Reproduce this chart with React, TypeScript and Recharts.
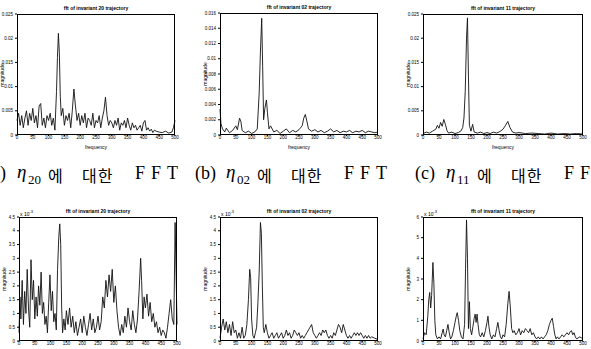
import React from 'react';
import { LineChart, Line, XAxis, YAxis } from 'recharts';

// frequency ticks shared by all six panels
const freqTicks = [0, 50, 100, 150, 200, 250, 300, 350, 400, 450, 500];

// (a) eta20, first run
const aFreq = [0, 5, 10, 15, 20, 25, 30, 35, 40, 45, 50, 55, 60, 65, 70, 75, 80, 85, 90, 95, 100, 105, 110, 115, 120, 125, 128, 131, 134, 137, 140, 145, 150, 155, 160, 165, 170, 175, 180, 185, 190, 195, 200, 205, 210, 215, 220, 225, 230, 235, 240, 245, 250, 255, 260, 265, 270, 275, 280, 285, 290, 295, 300, 305, 310, 315, 320, 325, 330, 335, 340, 345, 350, 355, 360, 365, 370, 375, 380, 385, 390, 395, 400, 405, 410, 415, 420, 425, 430, 435, 440, 450, 460, 470, 480, 490, 495, 500];
const aMag = [0.003, 0.0045, 0.002, 0.004, 0.0015, 0.0035, 0.005, 0.002, 0.0045, 0.003, 0.0055, 0.0025, 0.004, 0.0015, 0.006, 0.0065, 0.002, 0.0035, 0.0015, 0.004, 0.003, 0.0045, 0.002, 0.0035, 0.001, 0.009, 0.016, 0.021, 0.017, 0.008, 0.004, 0.0055, 0.002, 0.004, 0.003, 0.0045, 0.0015, 0.005, 0.0095, 0.006, 0.003, 0.0045, 0.002, 0.004, 0.0025, 0.0045, 0.0015, 0.0035, 0.003, 0.002, 0.0045, 0.0015, 0.003, 0.0025, 0.004, 0.0015, 0.0035, 0.005, 0.0078, 0.004, 0.002, 0.003, 0.0025, 0.0015, 0.003, 0.002, 0.0035, 0.001, 0.0025, 0.002, 0.003, 0.0015, 0.0035, 0.002, 0.001, 0.0025, 0.0015, 0.002, 0.001, 0.0015, 0.002, 0.0008, 0.0025, 0.003, 0.001, 0.0015, 0.0008, 0.0012, 0.0005, 0.001, 0.0008, 0.0006, 0.0005, 0.0008, 0.0004, 0.0006, 0.0015, 0.003];

// (b) eta02, first run
const bFreq = [0, 3, 8, 15, 20, 30, 40, 50, 55, 62, 66, 70, 80, 90, 100, 110, 118, 124, 128, 132, 135, 138, 142, 147, 150, 155, 160, 170, 180, 190, 200, 210, 220, 230, 240, 250, 260, 265, 270, 275, 280, 290, 300, 310, 320, 330, 340, 350, 360, 370, 380, 390, 400, 410, 420, 430, 440, 450, 460, 470, 480, 490, 500];
const bMag = [0.0034, 0.0015, 0.0008, 0.0004, 0.0009, 0.0003, 0.0006, 0.0012, 0.0007, 0.0022, 0.0018, 0.0006, 0.0003, 0.0005, 0.0002, 0.0004, 0.0008, 0.0055, 0.011, 0.0153, 0.009, 0.002, 0.0035, 0.0046, 0.003, 0.0008, 0.0012, 0.0004, 0.0006, 0.0002, 0.0005, 0.0008, 0.0003, 0.0006, 0.0004, 0.0007, 0.0012, 0.0022, 0.0027, 0.0018, 0.0008, 0.0005, 0.0007, 0.0004, 0.0006, 0.0003, 0.0005, 0.0008, 0.0004, 0.0006, 0.0003, 0.0005, 0.0004, 0.0006, 0.0003, 0.0005, 0.0004, 0.0006, 0.0003, 0.0005, 0.0004, 0.0003, 0.0004];

// (c) eta11, first run
const cFreq = [0, 10, 20, 30, 40, 45, 50, 55, 60, 65, 70, 75, 80, 90, 100, 110, 118, 124, 128, 132, 136, 139, 142, 145, 150, 155, 160, 170, 180, 190, 200, 210, 220, 230, 240, 250, 258, 265, 272, 280, 290, 300, 320, 340, 360, 380, 400, 420, 440, 460, 480, 500];
const cMag = [0.0003, 0.0006, 0.0004, 0.0008, 0.0012, 0.002, 0.0014, 0.0026, 0.0018, 0.0032, 0.0022, 0.0009, 0.0004, 0.0006, 0.0003, 0.0005, 0.0008, 0.0015, 0.0035, 0.009, 0.02, 0.0242, 0.012, 0.002, 0.0008, 0.0022, 0.0006, 0.0004, 0.0006, 0.0003, 0.0005, 0.0003, 0.0006, 0.0004, 0.0007, 0.0012, 0.002, 0.0028, 0.0015, 0.0006, 0.0004, 0.0005, 0.0003, 0.0004, 0.0003, 0.0002, 0.0004, 0.0002, 0.0003, 0.0002, 0.0003, 0.0002];

// (d) eta20, second run (x 10^-3)
const dFreq = [0, 3, 6, 10, 14, 18, 22, 26, 30, 34, 38, 42, 46, 50, 54, 58, 62, 66, 70, 74, 78, 82, 86, 90, 94, 98, 102, 106, 110, 114, 118, 122, 126, 129, 132, 135, 138, 142, 146, 150, 155, 160, 165, 170, 175, 180, 185, 190, 195, 200, 205, 210, 215, 220, 225, 230, 235, 240, 245, 250, 255, 260, 265, 270, 275, 280, 285, 290, 295, 300, 305, 310, 315, 320, 325, 330, 335, 340, 345, 350, 355, 360, 365, 370, 375, 380, 385, 388, 392, 396, 400, 405, 410, 415, 420, 425, 430, 435, 440, 445, 450, 455, 460, 465, 470, 475, 480, 485, 490, 494, 497, 500];
const dMag = [0.3, 1.6, 0.8, 2.2, 0.6, 1.8, 1.0, 2.6, 1.2, 0.5, 2.95, 1.5, 2.2, 0.8, 1.6, 0.9, 2.0, 1.3, 2.5, 1.0, 1.4, 0.6, 0.9, 0.3, 1.4, 2.4, 1.1, 1.8, 0.7, 1.0, 0.4, 2.6, 3.8, 4.25, 3.5, 1.2, 0.3, 0.8, 0.4, 1.1, 0.6, 1.2, 0.5, 0.9, 0.3, 0.7, 0.2, 0.5, 0.8, 0.3, 0.9, 0.5, 0.2, 0.6, 1.0, 0.4, 0.8, 0.3, 0.5, 0.9, 0.4, 0.7, 1.6, 1.2, 2.2, 1.6, 2.4, 1.8, 2.6, 1.4, 2.0, 1.1, 0.5, 0.2, 0.6, 0.3, 0.9, 0.5, 1.2, 0.7, 0.4, 1.1, 0.6, 0.3, 0.8, 1.8, 3.0, 2.2, 0.8, 1.6, 1.2, 1.7, 0.9, 1.4, 0.7, 1.0, 0.5, 0.7, 0.3, 0.5, 0.2, 0.4, 0.3, 0.1, 0.5, 1.0, 1.5, 0.8, 0.6, 4.3, 2.5, 0.6];

// (e) eta02, second run (x 10^-3)
const eFreq = [0, 5, 10, 15, 20, 25, 30, 35, 40, 45, 50, 55, 60, 65, 70, 75, 80, 85, 90, 94, 97, 100, 104, 108, 112, 116, 120, 124, 128, 131, 134, 137, 140, 145, 150, 155, 160, 165, 170, 175, 180, 185, 190, 195, 200, 205, 210, 215, 220, 225, 230, 235, 240, 245, 250, 255, 260, 265, 270, 275, 280, 285, 290, 295, 300, 305, 310, 315, 320, 325, 330, 335, 340, 345, 350, 355, 360, 365, 370, 375, 380, 385, 390, 395, 400, 405, 410, 415, 420, 425, 430, 435, 440, 445, 450, 455, 460, 465, 470, 475, 480, 490, 500];
const eMag = [0.1, 0.5, 0.8, 0.4, 0.7, 0.3, 0.6, 0.2, 0.7, 0.3, 0.4, 0.1, 0.3, 0.1, 0.5, 0.1, 0.2, 0.6, 1.5, 2.6, 2.3, 0.8, 0.2, 0.1, 0.3, 0.5, 1.4, 2.5, 4.3, 3.9, 2.0, 0.5, 0.3, 0.6, 0.3, 0.1, 0.2, 0.3, 0.1, 0.2, 0.3, 0.1, 0.2, 0.3, 0.1, 0.2, 0.4, 0.2, 0.3, 0.1, 0.2, 0.4, 0.3, 0.2, 0.3, 0.1, 0.2, 0.1, 0.2, 0.3, 0.4, 0.5, 0.6, 0.3, 0.2, 0.1, 0.2, 0.3, 0.2, 0.4, 0.3, 0.4, 0.2, 0.1, 0.2, 0.1, 0.3, 0.2, 0.4, 0.6, 0.5, 0.3, 0.6, 0.4, 0.2, 0.1, 0.2, 0.1, 0.2, 0.3, 0.2, 0.3, 0.2, 0.3, 0.2, 0.1, 0.2, 0.1, 0.2, 0.1, 0.15, 0.1, 0.05];

// (f) eta11, second run (x 10^-3)
const fFreq = [0, 5, 10, 15, 18, 21, 24, 27, 31, 34, 37, 40, 45, 50, 55, 60, 63, 66, 70, 74, 78, 82, 86, 90, 95, 100, 104, 107, 111, 115, 120, 125, 130, 133, 136, 139, 142, 145, 148, 152, 156, 160, 163, 166, 169, 172, 176, 180, 185, 190, 195, 200, 203, 206, 210, 215, 220, 225, 230, 234, 238, 242, 246, 250, 255, 260, 265, 269, 273, 277, 281, 285, 290, 295, 300, 305, 310, 315, 320, 325, 330, 335, 340, 345, 350, 355, 360, 365, 370, 375, 380, 385, 390, 395, 400, 404, 408, 412, 416, 420, 425, 430, 435, 440, 445, 450, 455, 460, 464, 468, 472, 476, 480, 490, 500];
const fMag = [0.1, 0.4, 0.3, 1.2, 2.0, 2.35, 1.6, 2.2, 3.8, 2.8, 1.0, 0.3, 0.1, 0.2, 0.1, 0.4, 0.58, 0.3, 0.2, 0.5, 0.8, 0.4, 0.1, 0.2, 0.5, 0.9, 1.2, 1.37, 1.0, 0.5, 0.2, 0.1, 0.8, 3.5, 5.86, 4.0, 0.6, 1.9, 0.6, 0.3, 0.7, 1.1, 1.3, 0.9, 1.3, 0.8, 0.3, 0.2, 0.4, 0.2, 0.5, 0.9, 1.2, 0.7, 0.3, 0.1, 0.3, 0.2, 0.6, 0.9, 0.5, 0.2, 0.1, 0.3, 0.2, 0.8, 1.8, 2.4, 1.6, 0.6, 0.4, 0.5, 0.3, 0.4, 0.6, 0.3, 0.5, 0.4, 0.6, 0.5, 0.4, 0.6, 0.3, 0.4, 0.2, 0.1, 0.2, 0.1, 0.2, 0.1, 0.2, 0.3, 0.5, 0.8, 1.0, 1.1, 0.7, 0.3, 0.1, 0.2, 0.1, 0.2, 0.3, 0.2, 0.3, 0.4, 0.3, 0.45, 0.5, 0.3, 0.4, 0.2, 0.1, 0.2, 0.1];

const ticks025 = [0, 0.005, 0.01, 0.015, 0.02, 0.025];
const ticks016 = [0, 0.002, 0.004, 0.006, 0.008, 0.01, 0.012, 0.014, 0.016];
const ticks45 = [0, 0.5, 1, 1.5, 2, 2.5, 3, 3.5, 4, 4.5];
const ticks6 = [0, 1, 2, 3, 4, 5, 6];

const titles = ['fft of invariant 20 trajectory', 'fft of invariant 02 trajectory', 'fft of invariant 11 trajectory'];

const sans = 'Liberation Sans, Arial, sans-serif';
const tickFont = { fontSize: 4.5, fill: '#000', fontFamily: sans };

type Box = { x: number; y: number; w: number; h: number };

function Panel({ box, freq, mag, ticks, title, exp, xLabel }: { box: Box; freq: number[]; mag: number[]; ticks: number[]; title: string; exp?: boolean; xLabel?: boolean }) {
  const data = freq.map((f, i) => ({ f, m: mag[i] }));
  const padL = 22, padT = 14, padB = 12, padR = 4;
  const max = ticks[ticks.length - 1];
  return (
    <>
      <div style={{ position: 'absolute', left: box.x - padL, top: box.y - padT }}>
        <LineChart width={box.w + padL + padR} height={box.h + padT + padB} data={data}
          margin={{ top: padT, right: padR, left: 0, bottom: 0 }}>
          <XAxis dataKey="f" type="number" domain={[0, 500]} ticks={freqTicks} interval={0} height={padB}
            tickSize={1} tickMargin={0} tick={tickFont} axisLine={false} tickLine={{ stroke: '#000' }} />
          <YAxis type="number" domain={[0, max]} ticks={ticks} interval={0} width={padL}
            tickSize={2} tick={tickFont} axisLine={false} tickLine={{ stroke: '#000' }} />
          <Line dataKey="m" type="linear" stroke="#111" strokeWidth={0.9} dot={false} isAnimationActive={false} />
        </LineChart>
      </div>
      <div style={{ position: 'absolute', left: box.x, top: box.y, width: box.w, height: box.h, border: '1px solid #000', boxSizing: 'border-box' }} />
      <div style={{ position: 'absolute', left: box.x, width: box.w, top: box.y - 9, textAlign: 'center', fontSize: 5, fontWeight: 'bold', fontFamily: sans, whiteSpace: 'nowrap' }}>{title}</div>
      {exp && (
        <div style={{ position: 'absolute', left: box.x + 1, top: box.y - 8, fontSize: 5, fontFamily: sans }}>x 10<sup style={{ fontSize: 4 }}>-3</sup></div>
      )}
      <div style={{ position: 'absolute', left: box.x - 15 - 20, top: box.y + box.h / 2 - 3, width: 40, textAlign: 'center', fontSize: 5, fontFamily: sans, transform: 'rotate(-90deg)' }}>magnitude</div>
      {xLabel && (
        <div style={{ position: 'absolute', left: box.x, width: box.w, top: box.y + box.h + 9, textAlign: 'center', fontSize: 5, fontFamily: sans }}>frequency</div>
      )}
    </>
  );
}

const capFont = { fontFamily: '"Liberation Serif", "Noto Sans CJK KR", serif', fontSize: 18, color: '#000' };
const hangulFont = { fontFamily: '"Noto Sans CJK KR", sans-serif', fontSize: 16, color: '#000' };

function Caption({ x0, label, sub }: { x0: number; label: string; sub: string }) {
  const t = (dx: number, style: any, text: string, dy = 0) => (
    <span style={{ position: 'absolute', left: x0 + dx, top: 163 + dy, whiteSpace: 'nowrap', ...style }}>{text}</span>
  );
  return (
    <>
      {t(0, capFont, label)}
      {t(31, { ...capFont, fontStyle: 'italic', fontSize: 19 }, 'η', -2)}
      {t(42, { ...capFont, fontSize: 13 }, sub, 9)}
      {t(62, hangulFont, '에', 0)}
      {t(96, { ...hangulFont, letterSpacing: 1 }, '대한', 0)}
      {t(149, { ...capFont, letterSpacing: 6 }, 'FFT')}
    </>
  );
}

export default function App() {
  return (
    <div style={{ position: 'absolute', left: 0, top: 0, width: 591, height: 349, background: '#fff', overflow: 'hidden' }}>
      <Panel box={{ x: 17, y: 14, w: 158, h: 121 }} freq={aFreq} mag={aMag} ticks={ticks025} title={titles[0]} xLabel />
      <Panel box={{ x: 220, y: 13, w: 158, h: 122 }} freq={bFreq} mag={bMag} ticks={ticks016} title={titles[1]} xLabel />
      <Panel box={{ x: 423, y: 14, w: 160, h: 121 }} freq={cFreq} mag={cMag} ticks={ticks025} title={titles[2]} xLabel />
      <Panel box={{ x: 19, y: 217, w: 158, h: 124 }} freq={dFreq} mag={dMag} ticks={ticks45} title={titles[0]} exp />
      <Panel box={{ x: 220, y: 217, w: 158, h: 124 }} freq={eFreq} mag={eMag} ticks={ticks45} title={titles[1]} exp />
      <Panel box={{ x: 423, y: 217, w: 160, h: 124 }} freq={fFreq} mag={fMag} ticks={ticks6} title={titles[2]} exp />
      <Caption x0={-14} label="(a)" sub="20" />
      <Caption x0={195} label="(b)" sub="02" />
      <Caption x0={415} label="(c)" sub="11" />
    </div>
  );
}
